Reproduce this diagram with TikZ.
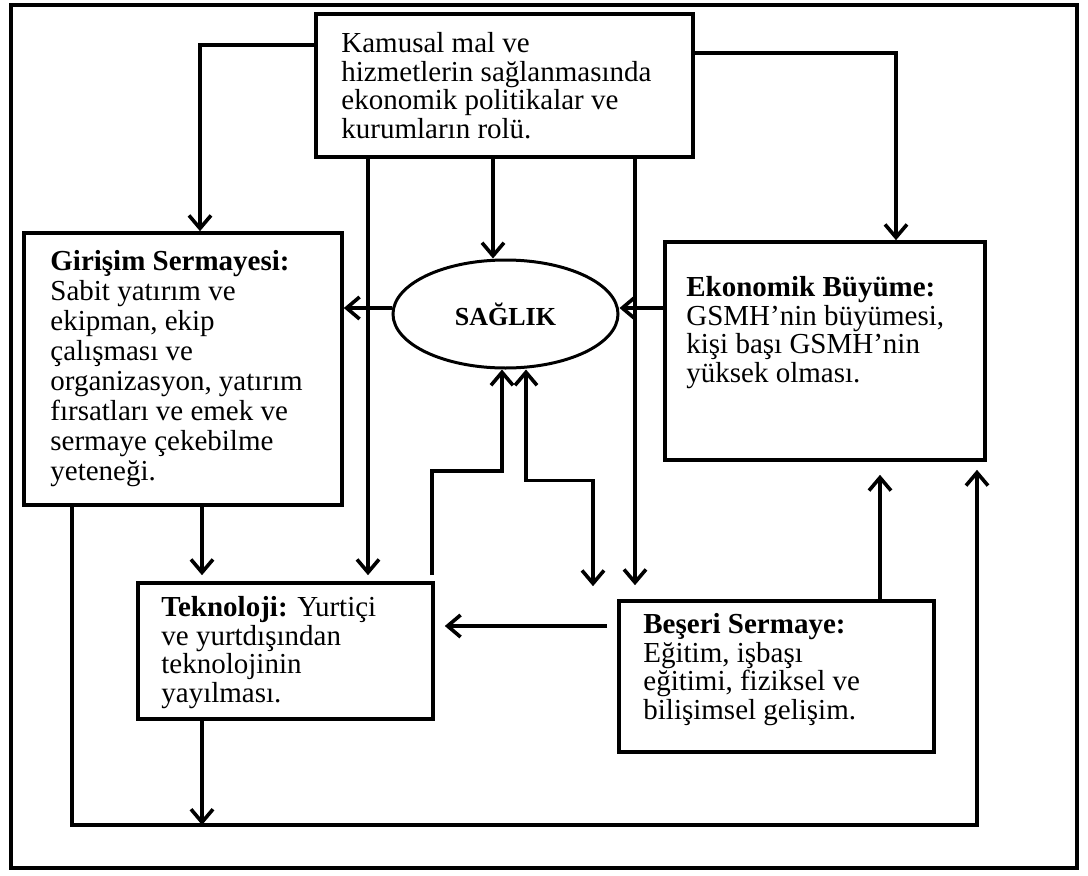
\documentclass[tikz,border=0pt]{standalone}
\usepackage{fontspec}
\setmainfont{Liberation Serif}
\usetikzlibrary{arrows.meta,shapes.geometric}
\lineskiplimit=-20pt

\begin{document}
\begin{tikzpicture}[x=1pt,y=-1pt,
  kutu/.style={draw,line width=3.6pt,inner sep=0pt},
  yazi/.style={anchor=north west,inner sep=0pt,align=left,
    font=\fontsize{29}{28.5}\selectfont},
  ok/.style={line width=3.6pt,-{Straight Barb[length=13pt,width=22pt]}},
  ciftok/.style={line width=3.6pt,{Straight Barb[length=13pt,width=22pt]}-{Straight Barb[length=13pt,width=22pt]}}]
  \useasboundingbox (0,0) rectangle (1088,876);
  \draw[line width=4pt] (11,5) rectangle (1077,868);

  % kutular
  \node[kutu,minimum width=377pt,minimum height=143pt] (kamu) at (504.5,85.5) {};
  \node[yazi] (kamuyazi) at ([xshift=27pt,yshift=-20pt]kamu.north west)
    {Kamusal mal ve\\hizmetlerin sağlanmasında\\ekonomik politikalar ve\\kurumların rolü.};
  \node[kutu,minimum width=318pt,minimum height=272pt] (girisim) at (183,369) {};
  \node[yazi,font=\fontsize{29}{30}\selectfont] (girisimyazi) at ([xshift=28pt,yshift=-19pt]girisim.north west)
    {\textbf{Girişim Sermayesi:}\\Sabit yatırım ve\\ekipman, ekip\\çalışması ve\\organizasyon, yatırım\\fırsatları ve emek ve\\sermaye çekebilme\\yeteneği.};
  \node[draw,ellipse,line width=3pt,minimum width=225pt,minimum height=108pt,
    font=\fontsize{26}{28}\selectfont\bfseries] (saglik) at (505.5,314) {SAĞLIK};
  \node[kutu,minimum width=320pt,minimum height=218pt] (buyume) at (825,351) {};
  \node[yazi] (buyumeyazi) at ([xshift=23pt,yshift=-36pt]buyume.north west)
    {\textbf{Ekonomik Büyüme:}\\GSMH’nin büyümesi,\\kişi başı GSMH’nin\\yüksek olması.};
  \node[kutu,minimum width=295pt,minimum height=136pt] (tekno) at (285.5,651) {};
  \node[yazi] (teknoyazi) at ([xshift=25pt,yshift=-15pt]tekno.north west)
    {\textbf{Teknoloji:} Yurtiçi\\ve yurtdışından\\teknolojinin\\yayılması.};
  \node[kutu,minimum width=315pt,minimum height=151pt] (beseri) at (776.5,676.5) {};
  \node[yazi] (beseriyazi) at ([xshift=26pt,yshift=-14pt]beseri.north west)
    {\textbf{Beşeri Sermaye:}\\Eğitim, işbaşı\\eğitimi, fiziksel ve\\bilişimsel gelişim.};

  % oklar
  \draw[ok] (kamu.west |- 0,45) -| (girisim.north -| 200,0);
  \draw[ok] (kamu.east |- 0,53) -| (buyume.north -| 896,0);
  \draw[ok,shorten >=6pt] (kamu.south -| 368,0) -- (tekno.north -| 368,0);
  \draw[ok] (kamu.south -| 493,0) -- (saglik.north -| 493,0);
  \draw[ok,shorten >=14pt] (kamu.south -| 635,0) -- (beseri.north -| 635,0);
  \draw[ok] (saglik.west |- 0,308) -- (girisim.east |- 0,308);
  \draw[ok] (buyume.west |- 0,308) -- (saglik.east |- 0,308);
  \draw[ok,shorten <=6pt] (tekno.north -| 432,0) -- ++(0,-110) -| (saglik.south -| 502,0);
  \draw[ciftok,shorten >=13pt]
    (saglik.south -| 526,0) -- ++(0,111) -| (beseri.north -| 593,0);
  \draw[ok,shorten >=6pt] (girisim.south -| 202,0) -- (tekno.north -| 202,0);
  \coordinate (alt) at (977,825);
  \draw[ok,shorten >=8pt] (girisim.south -| 72,0) |- (alt) -- (buyume.south -| alt);
  \draw[ok] (tekno.south -| 202,0) -- (alt -| 202,0);
  \draw[ok,shorten >=13pt] (beseri.north -| 880,0) -- (buyume.south -| 880,0);
  \draw[ok,shorten <=10pt,shorten >=10pt] (beseri.west |- 0,626) -- (tekno.east |- 0,626);
\end{tikzpicture}
\end{document}
